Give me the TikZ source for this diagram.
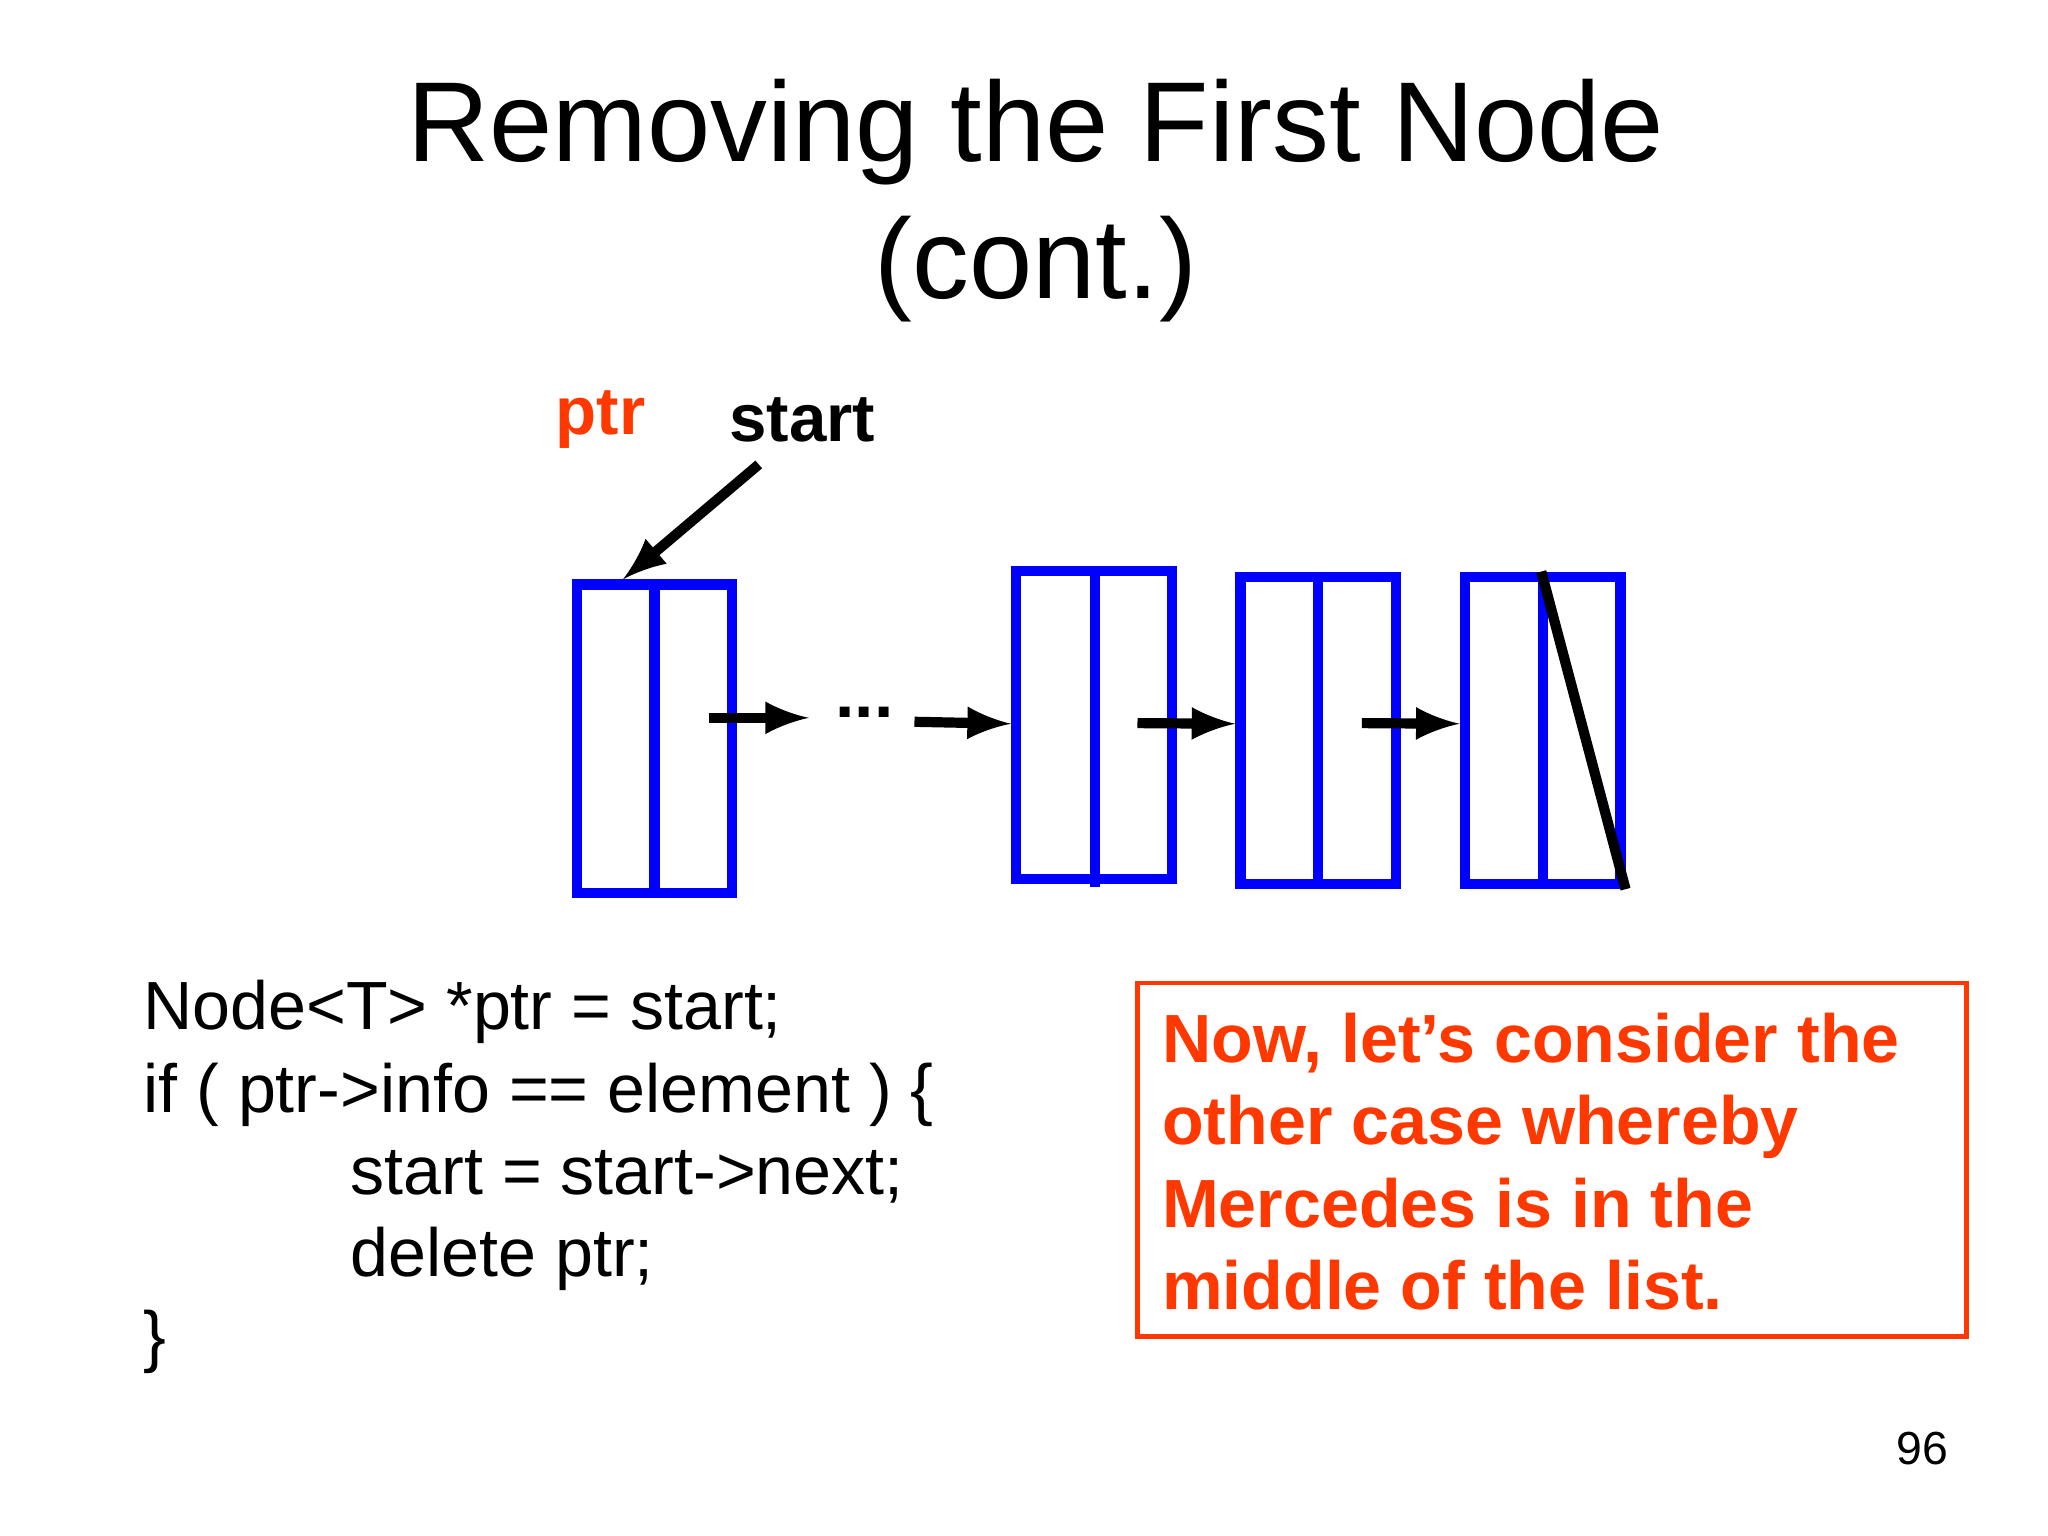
\documentclass[tikz,border=0pt]{standalone}
\usepackage{fontspec}
\setmainfont{Liberation Sans}
\definecolor{slidered}{RGB}{255,56,0}
\begin{document}
\begin{tikzpicture}[x=1cm,y=1cm,
    cell/.style={draw=blue, line width=2.2pt, minimum width=1.18cm, minimum height=2.33cm, inner sep=0pt},
    link/.style={-latex, line width=2.2pt},
    codeline/.style={anchor=base west, font=\fontsize{14.7}{18}\selectfont, inner sep=0pt},
    notetext/.style={anchor=base west, font=\fontsize{14.7}{18}\bfseries\selectfont, text=slidered, inner sep=0pt}
]
    \useasboundingbox (0,0) rectangle (15.52,11.64);

    % Title
    \node[font=\fontsize{24.5}{29.5}\selectfont, align=center] (title) at (7.85,10.12) {Removing the First Node\\(cont.)};

    % Pointer labels
    \node[font=\fontsize{14.5}{18}\bfseries\selectfont, text=slidered] (ptrlbl) at (4.55,8.46) {ptr};
    \node[font=\fontsize{14.5}{18}\bfseries\selectfont] (startlbl) at (6.08,8.46) {start};

    % List nodes
    \node[cell, minimum height=2.34cm] (n1) at (4.96,6.04) {};
    \node[cell] (n2) at (8.29,6.145) {};
    \node[cell] (n3) at (9.99,6.105) {};
    \node[cell] (n4) at (11.69,6.105) {};
    \draw[blue, line width=2.2pt] (n1.north) -- (n1.south);
    \draw[blue, line width=2.2pt] ([xshift=0.01cm,yshift=-0.05cm]n2.north) -- ([xshift=0.01cm,yshift=-0.02cm]n2.south);
    \draw[blue, line width=2.2pt] (n3.north) -- (n3.south);
    \draw[blue, line width=2.2pt] (n4.north) -- (n4.south);
    % null pointer
    \draw[line width=2.2pt] ([xshift=-0.01cm]n4.north) -- (n4.south east);

    % Links
    \coordinate (a1) at (5.37,6.20);
    \coordinate (a1e) at (6.13,6.20);
    \node[font=\fontsize{15}{18}\bfseries\selectfont] (dots) at (6.55,6.24) {...};
    \coordinate (a2) at (6.93,6.17);
    \draw[link] (a1) -- (a1e);
    \draw[link] (a2) -- ([yshift=0.01cm]n2.west);
    \draw[link] (8.62,6.16) -- ([yshift=0.05cm]n3.west);
    \draw[link] (10.32,6.16) -- ([yshift=0.05cm]n4.west);
    \coordinate (s1) at (5.75,8.12);
    \draw[link] (s1) -- ([xshift=-0.24cm]n1.north);

    % Code
    \node[codeline] (c1) at (1.08,3.84) {Node<T> *ptr = start;};
    \node[codeline] (c2) at (1.08,3.21) {if ( ptr->info == element ) \{};
    \node[codeline] (c3) at (2.65,2.59) {start = start->next;};
    \node[codeline] (c4) at (2.65,1.97) {delete ptr;};
    \node[codeline] (c5) at (1.08,1.34) {\}};

    % Note
    \draw[slidered, line width=1pt] (8.62,1.51) rectangle (14.90,4.19);
    \node[notetext] (t1) at (8.80,3.59) {Now, let’s consider the};
    \node[notetext] (t2) at (8.80,2.97) {other case whereby};
    \node[notetext] (t3) at (8.80,2.34) {Mercedes is in the};
    \node[notetext] (t4) at (8.80,1.72) {middle of the list.};

    \node[font=\fontsize{10}{12}\selectfont] (page) at (14.57,0.66) {96};
\end{tikzpicture}
\end{document}
